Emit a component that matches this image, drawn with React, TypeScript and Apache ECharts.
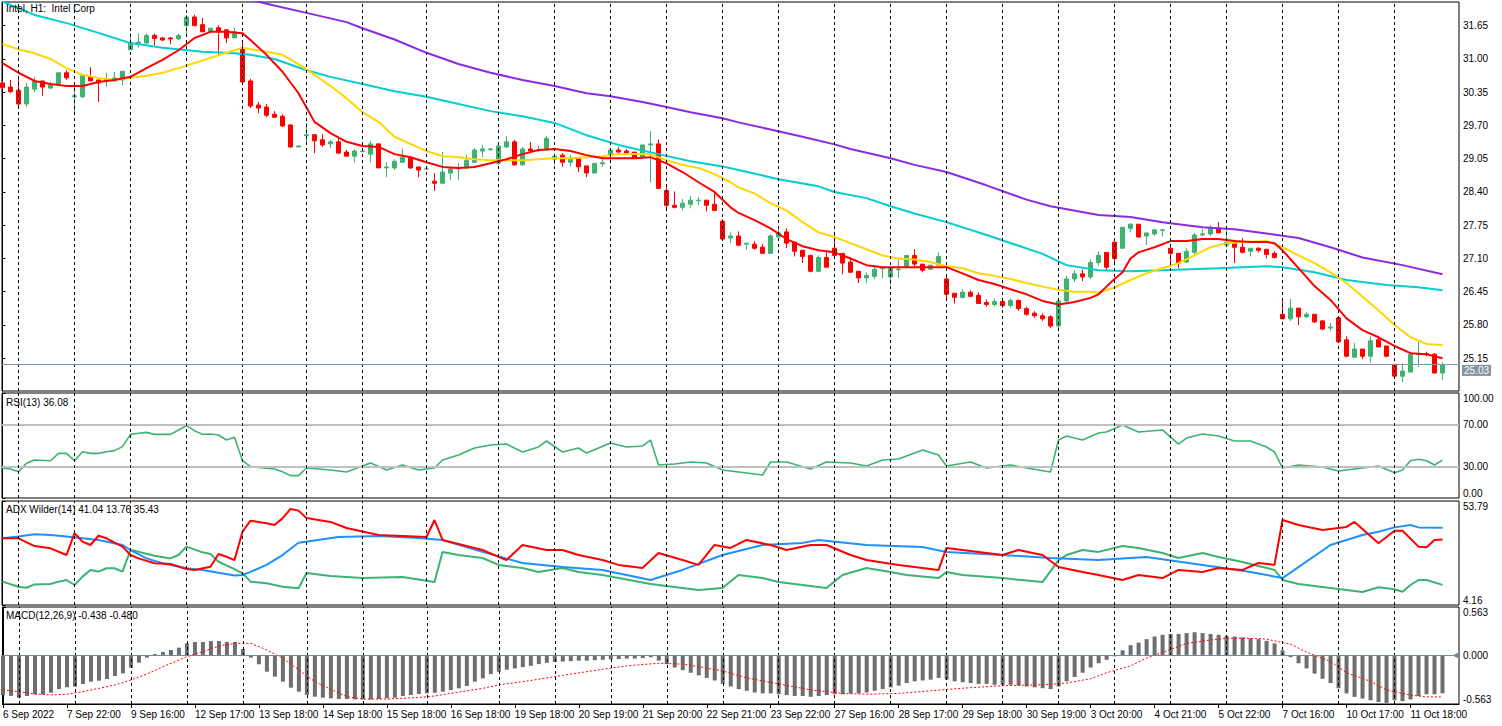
import React, { useEffect, useRef } from 'react';
import * as echarts from 'echarts';

// ---------- data ----------
// hourly bars, index 0 = 6 Sep 2022 21:00 ... index 180 = 11 Oct 22:00; rows are [open, high, low, close]
const ohlc: number[][] = [
  [30.53, 30.57, 30.41, 30.44], [30.45, 30.59, 30.33, 30.36], [30.39, 30.65, 30.08, 30.12], [30.12, 30.53, 30.06, 30.45],
  [30.41, 30.65, 30.35, 30.57], [30.57, 30.57, 30.28, 30.45], [30.43, 30.55, 30.41, 30.49], [30.51, 30.73, 30.51, 30.73],
  [30.73, 30.78, 30.59, 30.63], [30.26, 30.45, 29.90, 30.28], [30.26, 30.67, 30.24, 30.67], [30.65, 30.84, 30.57, 30.57],
  [30.59, 30.59, 30.16, 30.53], [30.57, 30.73, 30.45, 30.61], [30.57, 30.75, 30.57, 30.63], [30.59, 30.76, 30.49, 30.76],
  [31.18, 31.50, 31.18, 31.31], [31.31, 31.50, 31.22, 31.33], [31.31, 31.50, 31.29, 31.46], [31.46, 31.50, 31.27, 31.40],
  [31.41, 31.43, 31.35, 31.37], [31.41, 31.43, 31.29, 31.39], [31.39, 31.50, 31.37, 31.46], [31.65, 31.86, 31.46, 31.82],
  [31.82, 31.86, 31.65, 31.65], [31.67, 31.80, 31.53, 31.53], [31.53, 31.60, 31.53, 31.60], [31.61, 31.66, 31.08, 31.53],
  [31.57, 31.57, 31.31, 31.41], [31.41, 31.61, 31.41, 31.53], [31.21, 31.31, 30.55, 30.55], [30.57, 30.61, 30.04, 30.08],
  [30.10, 30.16, 29.94, 30.04], [30.06, 30.12, 29.86, 29.90], [29.92, 29.98, 29.86, 29.86], [29.88, 29.92, 29.67, 29.69],
  [29.71, 29.73, 29.26, 29.28], [29.28, 29.30, 29.28, 29.30], [29.50, 29.75, 29.36, 29.52], [29.52, 29.52, 29.16, 29.40],
  [29.42, 29.53, 29.28, 29.32], [29.34, 29.42, 29.26, 29.38], [29.38, 29.48, 29.14, 29.16], [29.18, 29.22, 29.10, 29.10],
  [29.10, 29.24, 28.98, 29.20], [29.19, 29.20, 29.19, 29.20], [29.14, 29.40, 28.98, 29.34], [29.34, 29.34, 28.87, 28.87],
  [28.87, 28.98, 28.69, 28.89], [28.87, 29.04, 28.83, 29.00], [28.98, 29.24, 28.98, 29.08], [29.08, 29.08, 28.85, 28.87],
  [28.89, 28.89, 28.69, 28.83], [28.85, 28.86, 28.84, 28.85], [28.61, 28.77, 28.42, 28.57], [28.57, 29.18, 28.57, 28.79],
  [28.77, 28.87, 28.63, 28.85], [28.85, 28.96, 28.63, 28.86], [28.87, 29.12, 28.85, 29.02], [28.98, 29.26, 28.98, 29.22],
  [29.20, 29.32, 29.08, 29.24], [29.23, 29.26, 29.20, 29.24], [28.96, 29.38, 28.93, 29.30], [29.28, 29.50, 29.26, 29.38],
  [29.38, 29.42, 28.91, 28.93], [28.93, 29.28, 28.91, 29.24], [29.24, 29.38, 29.20, 29.20], [29.21, 29.30, 29.18, 29.22],
  [29.22, 29.50, 29.20, 29.45], [29.04, 29.12, 28.93, 29.10], [29.12, 29.16, 28.89, 28.98], [28.98, 29.12, 28.89, 29.06],
  [29.06, 29.06, 28.79, 28.89], [28.91, 28.91, 28.69, 28.77], [28.77, 28.96, 28.77, 28.96], [28.95, 29.04, 28.89, 28.97],
  [29.12, 29.24, 28.98, 29.22], [29.22, 29.28, 29.16, 29.18], [29.20, 29.24, 29.14, 29.16], [29.18, 29.18, 29.06, 29.06],
  [29.08, 29.32, 29.06, 29.32], [29.32, 29.59, 28.59, 29.34], [29.34, 29.43, 28.47, 28.47], [28.43, 28.49, 28.08, 28.14],
  [28.14, 28.41, 28.08, 28.10], [28.10, 28.26, 28.04, 28.18], [28.16, 28.32, 28.08, 28.24], [28.23, 28.30, 28.14, 28.24],
  [28.24, 28.24, 28.02, 28.14], [28.16, 28.41, 28.04, 28.04], [27.83, 27.87, 27.48, 27.48], [27.50, 27.61, 27.40, 27.54],
  [27.54, 27.63, 27.34, 27.36], [27.38, 27.40, 27.27, 27.40], [27.38, 27.44, 27.27, 27.30], [27.32, 27.38, 27.20, 27.20],
  [27.20, 27.57, 27.20, 27.54], [27.52, 27.69, 27.52, 27.60], [27.62, 27.69, 27.30, 27.40], [27.42, 27.42, 27.14, 27.24],
  [27.26, 27.26, 27.01, 27.14], [27.16, 27.18, 26.83, 26.85], [26.85, 27.16, 26.83, 27.12], [27.12, 27.22, 26.93, 26.93],
  [27.30, 27.62, 27.16, 27.16], [27.20, 27.20, 26.79, 27.01], [27.03, 27.12, 26.83, 26.83], [26.85, 26.85, 26.62, 26.72],
  [26.72, 26.83, 26.62, 26.77], [26.75, 26.93, 26.69, 26.89], [26.90, 26.93, 26.71, 26.91], [26.74, 26.91, 26.58, 26.91],
  [26.88, 27.07, 26.72, 26.89], [26.93, 27.16, 26.93, 27.16], [27.16, 27.28, 26.93, 26.99], [26.99, 26.99, 26.83, 26.87],
  [26.89, 26.97, 26.89, 26.97], [26.97, 27.22, 26.97, 27.14], [26.70, 26.74, 26.32, 26.40], [26.42, 26.42, 26.22, 26.34],
  [26.34, 26.50, 26.32, 26.44], [26.44, 26.48, 26.36, 26.36], [26.38, 26.44, 26.22, 26.22], [26.24, 26.30, 26.16, 26.20],
  [26.20, 26.32, 26.16, 26.26], [26.26, 26.28, 26.14, 26.18], [26.18, 26.32, 26.14, 26.28], [26.28, 26.30, 26.08, 26.12],
  [26.12, 26.16, 25.98, 26.01], [26.03, 26.07, 25.94, 25.98], [25.98, 26.03, 25.88, 25.92], [25.96, 25.99, 25.74, 25.78],
  [25.78, 26.31, 25.74, 26.27], [26.27, 26.76, 26.22, 26.70], [26.70, 26.87, 26.64, 26.80], [26.80, 26.89, 26.66, 26.74],
  [26.74, 27.08, 26.70, 27.02], [27.02, 27.24, 26.96, 27.16], [27.22, 27.22, 26.87, 26.93], [27.42, 27.42, 27.03, 27.10],
  [27.30, 27.71, 27.30, 27.71], [27.69, 27.79, 27.61, 27.77], [27.77, 27.77, 27.50, 27.52], [27.54, 27.60, 27.36, 27.60],
  [27.58, 27.66, 27.54, 27.66], [27.65, 27.67, 27.53, 27.66], [27.30, 27.32, 27.01, 27.20], [27.20, 27.20, 26.91, 27.01],
  [27.03, 27.30, 27.01, 27.24], [27.22, 27.60, 27.16, 27.56], [27.56, 27.67, 27.54, 27.58], [27.58, 27.75, 27.54, 27.69],
  [27.69, 27.81, 27.60, 27.60], [27.36, 27.73, 27.36, 27.42], [27.40, 27.46, 27.01, 27.32], [27.32, 27.50, 27.20, 27.22],
  [27.24, 27.30, 27.14, 27.30], [27.30, 27.32, 27.22, 27.26], [27.28, 27.28, 27.10, 27.18], [27.20, 27.24, 27.10, 27.12],
  [26.01, 26.27, 25.92, 25.92], [25.92, 26.31, 25.88, 26.13], [26.13, 26.13, 25.80, 25.96], [25.96, 26.05, 25.94, 26.01],
  [26.01, 26.01, 25.84, 25.86], [25.88, 25.90, 25.70, 25.72], [25.74, 25.84, 25.68, 25.76], [25.94, 25.94, 25.47, 25.47],
  [25.51, 25.58, 25.17, 25.19], [25.17, 25.45, 25.17, 25.33], [25.33, 25.33, 25.13, 25.19], [25.19, 25.58, 25.07, 25.49],
  [25.51, 25.58, 25.37, 25.37], [25.39, 25.39, 25.17, 25.19], [25.03, 25.03, 24.80, 24.80], [24.80, 25.05, 24.68, 24.90],
  [24.88, 25.27, 24.88, 25.23], [25.22, 25.47, 24.98, 25.24], [25.24, 25.28, 25.19, 25.22], [25.23, 25.25, 24.86, 24.86],
  [24.86, 25.07, 24.72, 25.03],
];

// moving averages, [bar index, price]
const maRed: number[][] = [
  [0, 30.92], [2, 30.73], [4, 30.57], [6, 30.51], [8, 30.47], [10, 30.47], [12, 30.55], [14, 30.59], [16, 30.65], [18, 30.82],
  [20, 30.98], [22, 31.17], [24, 31.41], [26, 31.53], [28, 31.53], [30, 31.50], [31, 31.37], [33, 31.08], [35, 30.75], [37, 30.33],
  [39, 29.77], [41, 29.55], [43, 29.38], [45, 29.30], [47, 29.28], [49, 29.14], [51, 29.08], [53, 28.98], [55, 28.89], [57, 28.87],
  [59, 28.89], [61, 28.96], [63, 29.04], [65, 29.14], [67, 29.22], [69, 29.24], [71, 29.20], [73, 29.12], [75, 29.06], [77, 29.06],
  [79, 29.06], [81, 29.08], [83, 28.96], [85, 28.79], [87, 28.59], [89, 28.40], [91, 28.10], [92, 27.99], [94, 27.85], [96, 27.69],
  [98, 27.48], [100, 27.34], [102, 27.26], [104, 27.22], [106, 27.10], [108, 26.97], [110, 26.93], [112, 26.93], [114, 26.93],
  [116, 26.93], [118, 26.93], [120, 26.81], [122, 26.68], [124, 26.60], [126, 26.50], [128, 26.40], [130, 26.27], [132, 26.20],
  [134, 26.25], [136, 26.33], [137, 26.40], [138, 26.55], [139, 26.70], [140, 26.83], [141, 27.10], [142, 27.22], [144, 27.32],
  [146, 27.44], [148, 27.44], [150, 27.48], [152, 27.48], [154, 27.44], [156, 27.42], [158, 27.42], [159, 27.40], [160, 27.26],
  [162, 26.91], [164, 26.56], [166, 26.29], [168, 25.93], [170, 25.70], [172, 25.56], [174, 25.39], [176, 25.25], [178, 25.23],
  [180, 25.15],
];
const maYellow: number[][] = [
  [0, 31.29], [2, 31.19], [4, 31.11], [6, 31.00], [8, 30.82], [10, 30.69], [12, 30.63], [14, 30.59], [16, 30.63], [18, 30.67],
  [20, 30.73], [22, 30.82], [24, 30.92], [26, 31.02], [28, 31.12], [30, 31.22], [31, 31.19], [33, 31.14], [35, 31.08], [37, 30.90],
  [39, 30.69], [41, 30.47], [43, 30.23], [45, 29.96], [47, 29.77], [49, 29.48], [51, 29.34], [53, 29.20], [55, 29.10], [57, 29.08],
  [59, 29.04], [61, 29.02], [63, 29.02], [65, 29.02], [67, 29.04], [69, 29.06], [71, 29.06], [73, 29.08], [75, 29.10], [77, 29.14],
  [79, 29.14], [81, 29.14], [83, 29.02], [85, 28.93], [87, 28.87], [89, 28.75], [91, 28.59], [92, 28.49], [94, 28.37], [96, 28.18],
  [98, 28.04], [100, 27.81], [102, 27.61], [104, 27.52], [106, 27.40], [108, 27.28], [110, 27.16], [112, 27.10], [114, 27.08],
  [116, 27.03], [118, 26.95], [120, 26.91], [122, 26.81], [124, 26.76], [126, 26.70], [128, 26.62], [130, 26.55], [132, 26.49],
  [134, 26.45], [136, 26.45], [137, 26.43], [139, 26.53], [141, 26.68], [143, 26.81], [145, 26.91], [147, 27.01], [149, 27.16],
  [151, 27.32], [153, 27.40], [155, 27.42], [158, 27.44], [160, 27.32], [162, 27.16], [164, 27.01], [166, 26.83], [168, 26.62],
  [170, 26.35], [172, 26.09], [174, 25.80], [176, 25.56], [178, 25.43], [180, 25.41],
];
const maCyan: number[][] = [
  [0, 32.12], [4, 31.86], [8, 31.70], [12, 31.51], [16, 31.31], [20, 31.22], [25, 31.14], [29, 31.11], [31, 31.08], [34, 31.00],
  [38, 30.78], [41, 30.65], [45, 30.51], [49, 30.37], [53, 30.26], [57, 30.12], [61, 29.98], [65, 29.88], [69, 29.75], [73, 29.51],
  [77, 29.32], [82, 29.14], [86, 29.00], [90, 28.90], [92, 28.83], [97, 28.65], [102, 28.51], [104, 28.40], [108, 28.28],
  [111, 28.12], [114, 27.98], [118, 27.81], [123, 27.56], [130, 27.19], [133, 26.97], [137, 26.87], [141, 26.85], [145, 26.87],
  [152, 26.91], [158, 26.95], [160, 26.93], [164, 26.83], [168, 26.68], [173, 26.58], [177, 26.54], [180, 26.48],
];
const maPurple: number[][] = [
  [30, 32.20], [33, 32.08], [38, 31.90], [43, 31.72], [45, 31.60], [49, 31.38], [53, 31.12], [57, 30.90], [61, 30.73],
  [65, 30.59], [69, 30.47], [73, 30.33], [76, 30.27], [80, 30.16], [83, 30.06], [86, 29.96], [90, 29.84], [92, 29.76],
  [96, 29.62], [100, 29.48], [104, 29.33], [106, 29.24], [111, 29.06], [114, 28.93], [118, 28.79], [123, 28.53], [128, 28.25],
  [131, 28.12], [137, 27.95], [141, 27.91], [145, 27.81], [150, 27.71], [154, 27.67], [158, 27.59], [162, 27.50], [166, 27.32],
  [170, 27.12], [175, 26.97], [180, 26.79],
];

// RSI(13)
const rsi: number[][] = [
  [0, 28.3], [1, 27.6], [2, 25.0], [3, 33.0], [4, 36.2], [6, 35.5], [7, 42.5], [8, 42.5], [9, 35.5], [10, 44.1], [11, 42.5],
  [12, 42.5], [13, 44.1], [14, 45.1], [15, 48.9], [16, 60.6], [17, 61.6], [18, 62.5], [19, 60.6], [21, 60.6], [22, 64.8],
  [23, 68.9], [24, 64.1], [25, 60.6], [26, 61.0], [27, 60.0], [28, 55.2], [29, 57.8], [30, 35.5], [31, 29.8], [33, 28.3],
  [34, 27.6], [35, 25.0], [36, 21.3], [37, 21.3], [38, 28.6], [41, 26.7], [43, 24.8], [46, 33.3], [48, 26.7], [50, 31.4],
  [52, 26.7], [54, 28.6], [55, 36.2], [57, 41.0], [59, 47.6], [61, 50.5], [63, 51.4], [65, 43.8], [67, 48.6], [68, 54.3],
  [70, 43.8], [72, 47.6], [73, 42.9], [76, 52.4], [78, 48.6], [80, 49.5], [81, 55.2], [82, 31.4], [84, 32.4], [86, 34.3],
  [88, 33.3], [90, 26.7], [92, 24.8], [95, 21.9], [96, 34.3], [98, 34.3], [101, 27.6], [103, 34.3], [106, 33.3], [108, 30.5],
  [110, 36.2], [112, 37.1], [115, 45.7], [117, 41.0], [118, 30.5], [121, 34.3], [123, 28.6], [126, 31.4], [128, 28.6],
  [131, 24.8], [132, 55.2], [133, 59.0], [135, 55.2], [137, 61.9], [138, 62.9], [140, 69.5], [142, 62.9], [145, 64.8],
  [147, 51.4], [148, 57.1], [150, 61.0], [152, 59.0], [154, 54.3], [156, 54.3], [158, 48.6], [159, 43.8], [160, 28.6],
  [162, 31.4], [165, 29.5], [167, 25.7], [170, 28.6], [172, 30.5], [174, 24.1], [175, 26.7], [176, 35.5], [177, 36.9],
  [178, 35.5], [179, 31.4], [180, 36.08],
];
const rsiLevels = [30, 70];

// ADX Wilder(14): main, +DI, -DI
const adxMain: number[][] = [
  [0, 36.0], [2, 36.8], [4, 37.9], [6, 37.6], [8, 36.8], [10, 36.0], [12, 35.2], [15, 32.8], [16, 30.4], [18, 26.4], [20, 24.1],
  [23, 21.7], [25, 20.9], [27, 19.6], [29, 18.2], [30, 18.5], [31, 20.0], [33, 23.3], [35, 28.0], [37, 33.9], [42, 36.6],
  [47, 37.1], [52, 36.1], [55, 35.2], [60, 29.5], [65, 24.2], [70, 22.3], [75, 20.9], [81, 16.1], [85, 20.9], [90, 28.0],
  [95, 32.8], [100, 33.8], [102, 35.2], [108, 32.8], [115, 31.8], [118, 29.5], [125, 28.0], [131, 26.6], [137, 25.6],
  [143, 27.1], [150, 23.3], [156, 19.9], [160, 17.0], [166, 32.8], [170, 37.6], [172, 39.1], [174, 41.2], [176, 42.3],
  [177, 41.2], [180, 41.04],
];
const adxPlusDi: number[][] = [
  [0, 15.3], [2, 12.9], [3, 12.4], [4, 14.0], [6, 14.2], [7, 15.3], [8, 16.1], [9, 13.7], [10, 17.7], [11, 20.9], [12, 20.1],
  [13, 21.7], [14, 21.7], [15, 20.1], [16, 30.4], [17, 29.6], [19, 27.7], [21, 26.4], [22, 28.0], [23, 32.0], [25, 29.3],
  [26, 28.5], [27, 24.8], [29, 21.3], [30, 19.3], [31, 15.3], [33, 14.5], [35, 12.9], [37, 12.1], [38, 19.4], [41, 18.0],
  [45, 17.0], [50, 17.5], [54, 15.1], [55, 29.5], [57, 28.0], [60, 26.6], [62, 23.3], [65, 21.8], [67, 19.9], [70, 21.8],
  [72, 19.9], [75, 18.5], [77, 17.0], [81, 14.2], [85, 12.3], [87, 11.3], [90, 12.3], [92, 18.5], [95, 17.0], [97, 15.1],
  [100, 13.7], [103, 12.3], [105, 18.5], [108, 21.8], [111, 19.9], [113, 18.5], [117, 17.0], [118, 19.9], [120, 18.5],
  [125, 17.0], [130, 15.1], [132, 25.6], [133, 28.0], [135, 30.4], [137, 29.5], [140, 32.3], [142, 31.4], [145, 29.0],
  [147, 26.6], [150, 29.0], [152, 27.1], [155, 24.7], [157, 22.8], [159, 20.9], [160, 16.1], [162, 14.2], [166, 12.3],
  [170, 10.4], [172, 12.6], [174, 11.7], [175, 10.5], [176, 13.7], [177, 16.1], [178, 16.1], [180, 13.76],
];
const adxMinusDi: number[][] = [
  [0, 36.0], [2, 36.0], [4, 32.3], [6, 31.2], [8, 28.0], [9, 38.4], [10, 34.4], [11, 32.8], [12, 37.2], [13, 36.0], [14, 33.9],
  [15, 32.0], [16, 28.0], [17, 26.4], [19, 24.1], [21, 23.7], [23, 21.3], [24, 20.9], [26, 22.4], [27, 28.5], [28, 27.2],
  [29, 25.6], [30, 39.1], [31, 44.4], [33, 43.2], [34, 42.3], [35, 45.5], [36, 50.0], [37, 49.2], [38, 45.7], [41, 43.8],
  [43, 40.9], [47, 37.6], [53, 36.6], [54, 44.7], [55, 35.2], [60, 30.4], [63, 25.6], [65, 32.8], [68, 30.4], [70, 30.4],
  [72, 28.0], [75, 25.6], [77, 23.3], [80, 21.8], [82, 29.0], [85, 25.6], [87, 23.3], [89, 32.8], [91, 31.4], [93, 35.2],
  [96, 32.8], [98, 30.4], [101, 32.8], [103, 32.8], [106, 28.0], [108, 25.6], [112, 23.3], [117, 20.9], [118, 31.4],
  [120, 30.4], [122, 29.5], [125, 28.0], [127, 30.4], [130, 28.0], [132, 22.3], [135, 19.9], [137, 18.5], [140, 16.1],
  [142, 18.5], [145, 17.0], [147, 20.9], [150, 19.9], [152, 21.8], [155, 20.9], [157, 24.2], [159, 23.3], [160, 44.7],
  [162, 42.3], [165, 40.0], [168, 41.4], [169, 43.8], [172, 33.6], [174, 39.6], [175, 39.6], [177, 32.0], [178, 31.7],
  [179, 35.2], [180, 35.43],
];

// MACD(12,26,9): main (histogram, one per bar) and signal
const macdMain: number[] = [
  -0.46, -0.469, -0.49, -0.47, -0.45, -0.45, -0.432, -0.389, -0.369, -0.362, -0.331, -0.304, -0.292, -0.273, -0.238, -0.207,
  -0.141, -0.083, -0.025, 0.017, 0.041, 0.064, 0.091, 0.141, 0.157, 0.157, 0.168, 0.168, 0.157, 0.157, 0.075, -0.025,
  -0.102, -0.188, -0.246, -0.304, -0.374, -0.42, -0.458, -0.478, -0.49, -0.497, -0.505, -0.505, -0.51, -0.51, -0.51, -0.505,
  -0.497, -0.49, -0.47, -0.458, -0.447, -0.439, -0.432, -0.42, -0.40, -0.381, -0.354, -0.304, -0.265, -0.215, -0.188, -0.165,
  -0.15, -0.135, -0.12, -0.10, -0.085, -0.075, -0.07, -0.065, -0.06, -0.06, -0.055, -0.05, -0.045, -0.04, -0.035, -0.035,
  -0.03, -0.02, -0.06, -0.10, -0.14, -0.17, -0.20, -0.23, -0.26, -0.29, -0.33, -0.36, -0.39, -0.41, -0.43, -0.44,
  -0.44, -0.45, -0.46, -0.47, -0.47, -0.48, -0.47, -0.46, -0.45, -0.45, -0.44, -0.44, -0.43, -0.41, -0.39, -0.37,
  -0.35, -0.32, -0.30, -0.29, -0.28, -0.26, -0.28, -0.30, -0.31, -0.32, -0.33, -0.33, -0.34, -0.34, -0.34, -0.35,
  -0.36, -0.37, -0.38, -0.39, -0.36, -0.30, -0.25, -0.20, -0.14, -0.09, -0.05, -0.01, 0.06, 0.12, 0.15, 0.19,
  0.22, 0.24, 0.25, 0.25, 0.26, 0.27, 0.26, 0.25, 0.24, 0.23, 0.22, 0.21, 0.20, 0.19, 0.17, 0.14,
  0.06, -0.02, -0.09, -0.15, -0.21, -0.27, -0.32, -0.38, -0.44, -0.48, -0.50, -0.52, -0.54, -0.55, -0.52, -0.53,
  -0.51, -0.47, -0.45, -0.45, -0.438,
];
const macdSignal: number[][] = [
  [0, -0.40], [2, -0.42], [4, -0.447], [6, -0.458], [8, -0.45], [10, -0.42], [12, -0.381], [14, -0.342], [16, -0.284],
  [18, -0.215], [20, -0.13], [22, -0.052], [23, -0.014], [25, 0.044], [27, 0.11], [29, 0.141], [31, 0.141], [33, 0.064],
  [35, -0.033], [37, -0.168], [39, -0.304], [41, -0.392], [43, -0.478], [45, -0.505], [48, -0.505], [50, -0.497],
  [52, -0.487], [54, -0.47], [56, -0.439], [58, -0.41], [60, -0.381], [62, -0.342], [66, -0.29], [70, -0.23], [75, -0.16],
  [78, -0.12], [82, -0.09], [85, -0.10], [87, -0.13], [90, -0.18], [93, -0.26], [97, -0.33], [101, -0.40], [105, -0.44],
  [108, -0.45], [112, -0.44], [116, -0.41], [120, -0.38], [125, -0.35], [130, -0.34], [133, -0.32], [136, -0.27],
  [138, -0.20], [141, -0.12], [143, -0.03], [146, 0.07], [148, 0.14], [151, 0.18], [153, 0.20], [156, 0.20], [158, 0.19],
  [161, 0.13], [163, 0.04], [166, -0.07], [168, -0.20], [171, -0.30], [173, -0.40], [176, -0.46], [178, -0.48], [180, -0.48],
];

// axes
const xLabels = [
  '6 Sep 2022', '7 Sep 22:00', '9 Sep 16:00', '12 Sep 17:00', '13 Sep 18:00', '14 Sep 18:00', '15 Sep 18:00', '16 Sep 18:00',
  '19 Sep 18:00', '20 Sep 19:00', '21 Sep 20:00', '22 Sep 21:00', '23 Sep 22:00', '27 Sep 16:00', '28 Sep 17:00',
  '29 Sep 18:00', '30 Sep 19:00', '3 Oct 20:00', '4 Oct 21:00', '5 Oct 22:00', '7 Oct 16:00', '10 Oct 17:00', '11 Oct 18:00',
];
const xLabelBars = [0, 8, 16, 24, 32, 40, 48, 56, 64, 72, 80, 88, 96, 104, 112, 120, 128, 136, 144, 152, 160, 168, 176];
const dayStarts = [2, 9, 16, 23, 30, 38, 45, 53, 62, 69, 76, 83, 90, 97, 104, 111, 118, 125, 132, 139, 146, 153, 160, 167, 174];
const priceTicks = [25.15, 25.8, 26.45, 27.1, 27.75, 28.4, 29.05, 29.7, 30.35, 31.0, 31.65];
const rsiTicks = [0, 30, 70, 100];
const adxTicks = [4.16, 53.79];
const macdTicks = [-0.563, 0, 0.563];

// ---------- chart ----------
const FONT = '"Liberation Sans", Arial, sans-serif';
const X_MIN = -0.0625;
const X_MAX = 182.0625;
const GREEN = '#3cb371';
const RED = '#ff0000';

const sepLines = dayStarts.map((d) => ({ xAxis: d }));
const sepStyle = { color: '#000', type: [3, 3] as any, width: 1 };

function buildOption(): any {
  const candleData = ohlc.map((r, i) => [i, r[0], r[3], r[2], r[1]]);
  const lastClose = ohlc[ohlc.length - 1][3];
  const panes = [
    { top: 2, height: 389 },
    { top: 393, height: 105 },
    { top: 501, height: 104 },
    { top: 607, height: 97 },
  ];
  const grid = panes.map((p) => ({
    left: 2, width: 1457, top: p.top, height: p.height, show: true,
    borderColor: '#000', borderWidth: 1, backgroundColor: '#fff',
  }));
  const xAxis = panes.map((_, k) => ({
    type: 'value', gridIndex: k, min: X_MIN, max: X_MAX,
    splitLine: { show: false },
    axisLine: { show: k === 3, onZero: false, lineStyle: { color: '#000' } },
    axisTick: k === 3
      ? { show: true, customValues: xLabelBars, length: 4, lineStyle: { color: '#000' } }
      : { show: false },
    axisLabel: k === 3
      ? {
          show: true, customValues: xLabelBars, align: 'left', margin: 5, color: '#000',
          fontFamily: FONT, fontSize: 10,
          formatter: (v: number) => xLabels[xLabelBars.indexOf(Math.round(v))] ?? '',
        }
      : { show: false },
  }));
  const yDefs = [
    { min: 24.51, max: 32.113, ticks: priceTicks, dec: 2 },
    { min: 0, max: 100, ticks: rsiTicks, dec: 2 },
    { min: 4.16, max: 53.79, ticks: adxTicks, dec: 2 },
    { min: -0.563, max: 0.563, ticks: macdTicks, dec: 3 },
  ];
  const yAxis = yDefs.map((d, k) => ({
    type: 'value', gridIndex: k, position: 'right', min: d.min, max: d.max,
    splitLine: { show: false },
    axisLine: { show: true, lineStyle: { color: '#000' } },
    axisTick: { show: true, customValues: d.ticks, length: 3, lineStyle: { color: '#000' } },
    axisLabel: {
      show: true, customValues: d.ticks, margin: 4, color: '#000', fontFamily: FONT, fontSize: 10,
      showMinLabel: true, showMaxLabel: true, hideOverlap: false,
      verticalAlignMinLabel: k === 0 ? 'middle' : 'bottom',
      verticalAlignMaxLabel: k === 0 ? 'middle' : 'top',
      formatter: (v: number) => v.toFixed(d.dec),
    },
  }));

  const line = (data: number[][], color: string, k: number, width = 2, extra: any = {}) => ({
    type: 'line', xAxisIndex: k, yAxisIndex: k, data, showSymbol: false, symbol: 'none',
    lineStyle: { color, width }, itemStyle: { color }, silent: true, ...extra,
  });

  const series: any[] = [
    {
      type: 'candlestick', xAxisIndex: 0, yAxisIndex: 0, data: candleData, barWidth: 5,
      itemStyle: { color: GREEN, color0: RED, borderColor: GREEN, borderColor0: RED, borderWidth: 1 },
      silent: true,
      markLine: {
        silent: true, symbol: ['none', 'none'], animation: false,
        lineStyle: sepStyle, label: { show: false },
        data: [
          ...sepLines,
          {
            yAxis: lastClose,
            lineStyle: { color: '#8796a6', type: 'solid', width: 1 },
            label: {
              show: true, position: 'end', distance: 3, offset: [0, 6], formatter: lastClose.toFixed(2), color: '#fff',
              backgroundColor: '#8391a0', padding: [1, 2, 0, 2], fontFamily: FONT, fontSize: 10, lineHeight: 10,
            },
          },
        ],
      },
    },
    line(maCyan, '#00ced1', 0),
    line(maPurple, '#8a2be2', 0),
    line(maYellow, '#ffd700', 0),
    line(maRed, RED, 0),
    line(rsi, GREEN, 1, 1.6, {
      markLine: {
        silent: true, symbol: ['none', 'none'], animation: false, label: { show: false },
        data: [
          ...rsiLevels.map((v) => ({ yAxis: v, lineStyle: { color: '#c0c0c0', type: 'solid', width: 2 } })),
          ...sepLines.map((s) => ({ ...s, lineStyle: sepStyle })),
        ],
      },
      z: 3,
    }),
    line(adxPlusDi, GREEN, 2, 2, {
      markLine: {
        silent: true, symbol: ['none', 'none'], animation: false, label: { show: false },
        lineStyle: sepStyle, data: sepLines,
      },
    }),
    line(adxMain, '#1e90ff', 2),
    line(adxMinusDi, RED, 2),
    {
      type: 'bar', xAxisIndex: 3, yAxisIndex: 3, barWidth: 4, silent: true,
      data: macdMain.map((v, i) => [i, v]),
      itemStyle: { color: '#6e6e6e' },
      markLine: {
        silent: true, symbol: ['none', 'none'], animation: false, label: { show: false },
        data: [
          ...sepLines.map((s) => ({ ...s, lineStyle: sepStyle })),
          { yAxis: 0, lineStyle: { color: '#778899', type: 'solid', width: 1 } },
        ],
      },
      markPoint: {
        silent: true, animation: false,
        data: [{
          coord: [X_MAX, 0], symbol: 'triangle', symbolRotate: 90, symbolSize: 7, symbolOffset: [-3, 0],
          itemStyle: { color: '#778899' }, label: { show: false },
        }],
      },
    },
    line(macdSignal, RED, 3, 1, { lineStyle: { color: RED, width: 1, type: [2, 2] } }),
  ];

  const txt = (text: string, top: number) => ({
    type: 'text', left: 6, top, z: 100, silent: true,
    style: { text, fill: '#000', fontFamily: FONT, fontSize: 10 },
  });

  return {
    animation: false,
    backgroundColor: '#fff',
    grid, xAxis, yAxis, series,
    graphic: [
      txt('Intel, H1:  Intel Corp', 3),
      txt('RSI(13) 36.08', 397),
      txt('ADX Wilder(14) 41.04 13.76 35.43', 504),
      txt('MACD(12,26,9) -0.438 -0.480', 610),
    ],
  };
}

export default function App() {
  const ref = useRef<HTMLDivElement>(null);
  useEffect(() => {
    document.body.style.margin = '0';
    const chart = echarts.init(ref.current!, null, { renderer: 'svg' });
    chart.setOption(buildOption());
    return () => chart.dispose();
  }, []);
  return (
    <div
      ref={ref}
      style={{ position: 'absolute', left: 0, top: 0, width: 1502, height: 726, background: '#fff' }}
    />
  );
}
